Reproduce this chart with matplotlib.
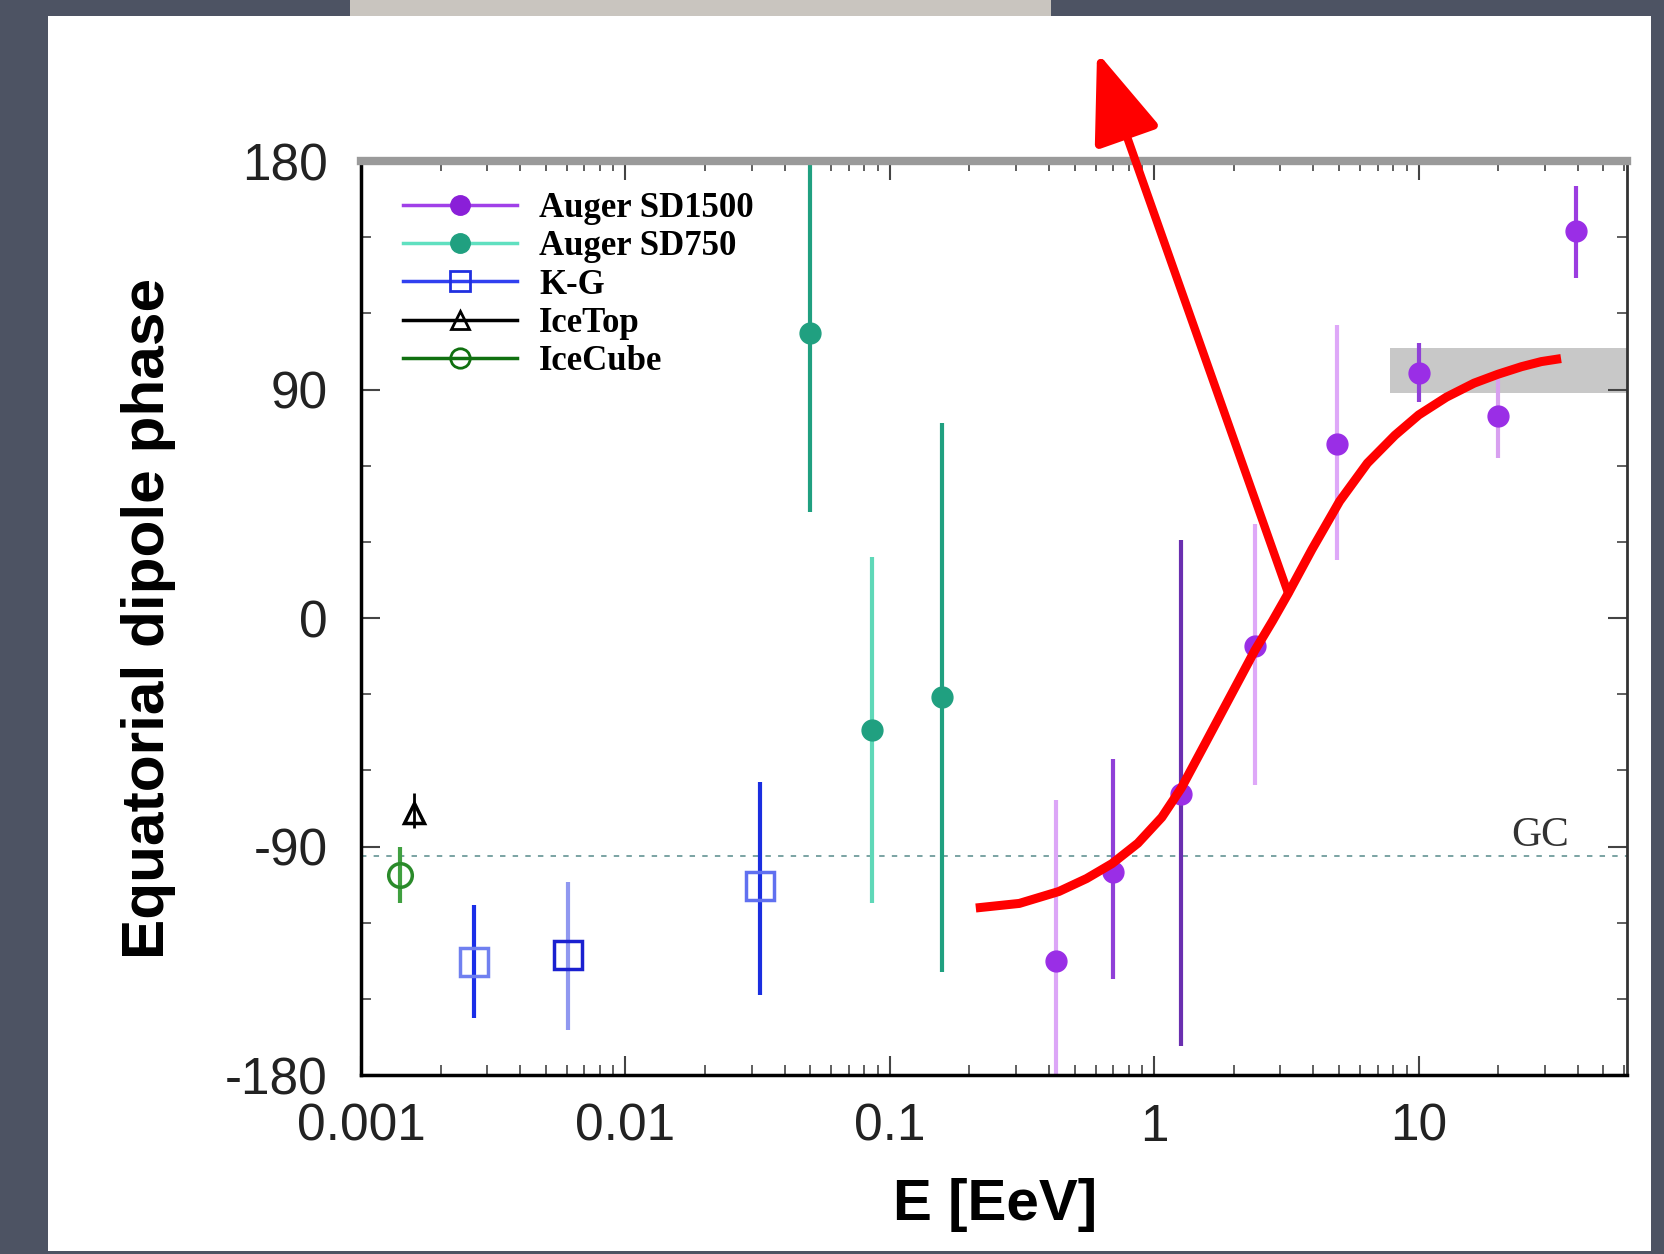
import matplotlib
matplotlib.use("Agg")
import matplotlib.pyplot as plt
from matplotlib.lines import Line2D
from matplotlib.patches import Rectangle
from matplotlib.ticker import LogLocator, MultipleLocator, NullFormatter

# ---- data ----
# Auger SD1500
sd1500_E = [0.424, 0.697, 1.26, 2.41, 4.93, 10.0, 19.9, 39.3]
sd1500_phase = [-135.1, -99.9, -69.3, -11.0, 68.6, 96.6, 79.7, 152.4]
sd1500_lo = [-200, -142.1, -168.6, -65.7, 22.8, 85.2, 63.0, 134.0]
sd1500_hi = [-71.7, -55.6, 30.8, 36.9, 115.3, 108.3, 95.2, 170.0]
sd1500_barcol = ["#dca6f7", "#9040d8", "#6a2fb0", "#dea8f8", "#dea8f8", "#9040d8", "#d8a0f0", "#9b3de0"]

# Auger SD750
sd750_E = [0.050, 0.086, 0.157]
sd750_phase = [112.2, -44.0, -31.0]
sd750_lo = [41.9, -112.2, -139.4]
sd750_hi = [200, 23.9, 77.0]
sd750_barcol = ["#20a080", "#5fd8b8", "#20a080"]

# KASCADE-Grande
kg_E = [0.00267, 0.00607, 0.0323]
kg_phase = [-135.6, -132.7, -105.5]
kg_lo = [-157.4, -162.4, -148.6]
kg_hi = [-113.0, -103.8, -64.5]
kg_barcol = ["#1a2ee8", "#9098f0", "#1a2ee0"]
kg_mkcol = ["#7080f0", "#1a20d0", "#6070f0"]

# IceTop / IceCube
icetop_E, icetop_phase, icetop_lo, icetop_hi = [0.00159], [-76.6], [-82.5], [-69.0]
icecube_E, icecube_phase, icecube_lo, icecube_hi = [0.00140], [-101.3], [-112.2], [-90.0]

gc_phase = -93.6
band_E = [7.8, 61.4]
band_lo, band_hi = 88.7, 106.3

# hand-drawn red curve on the slide (read point by point)
curve_E = [0.2115, 0.309, 0.436, 0.555, 0.693, 0.867, 1.068, 1.267, 1.559, 1.916, 2.398, 2.80,
           3.212, 3.948, 5.025, 6.40, 8.14, 10.01, 12.74, 16.20, 19.93, 24.5, 29.1, 34.56]
curve_phase = [-114.2, -112.4, -107.7, -102.6, -96.7, -88.7, -78.5, -66.9, -49.4, -31.9, -12.9, -1.2,
               9.7, 27.0, 46.0, 61.0, 72.0, 80.0, 87.0, 92.5, 96.0, 99.0, 101.0, 102.2]
arrow_from = 12  # index of the curve point where the arrow starts

y_ticks = [-180, -90, 0, 90, 180]
y_ticklabels = ["-180", "-90", "0", "90", "180"]
x_ticks = [0.001, 0.01, 0.1, 1, 10]
x_ticklabels = ["0.001", "0.01", "0.1", "1", "10"]
legend_labels = ["Auger SD1500", "Auger SD750", "K-G", "IceTop", "IceCube"]

# ---- figure ----
fig = plt.figure(figsize=(16.65, 12.54), dpi=100)
fig.patch.set_facecolor("#4d5363")

# white slide panel and grey strip at the top
fig.patches.append(Rectangle((0.0288, 0.0024), 0.9628, 0.9848, transform=fig.transFigure,
                             facecolor="white", edgecolor="none", zorder=-5))
fig.patches.append(Rectangle((0.2102, 0.9872), 0.421, 0.0128, transform=fig.transFigure,
                             facecolor="#c9c5bf", edgecolor="none", zorder=-5))

ax = fig.add_axes([0.2168, 0.1427, 0.7604, 0.7289])
ax.set_facecolor("white")
ax.set_xscale("log")
ax.set_xlim(0.001, 61.4)
ax.set_ylim(-180, 180)

# grey band and GC line
ax.fill_between(band_E, band_lo, band_hi, color="#c8c8c8", lw=0, zorder=1)
ax.axhline(gc_phase, color="#6f9c9c", ls=(0, (3, 4)), lw=1.3, zorder=1)
ax.text(28.7, -85.8, "GC", family="Liberation Serif", fontsize=30, color="#333333",
        ha="center", va="center")

# error bars
ax.vlines(sd1500_E, sd1500_lo, sd1500_hi, colors=sd1500_barcol, lw=3, zorder=2)
ax.vlines(sd750_E, sd750_lo, sd750_hi, colors=sd750_barcol, lw=3, zorder=2)
ax.vlines(kg_E, kg_lo, kg_hi, colors=kg_barcol, lw=3, zorder=2)
ax.vlines(icetop_E, icetop_lo, icetop_hi, colors="black", lw=2, zorder=2)
ax.vlines(icecube_E, icecube_lo, icecube_hi, colors="#40a040", lw=3, zorder=2)

# markers
ax.plot(sd1500_E, sd1500_phase, "o", color="#9a2ee6", ms=15, zorder=3)
ax.plot(sd750_E, sd750_phase, "o", color="#20a080", ms=15, zorder=3)
for e, p, c in zip(kg_E, kg_phase, kg_mkcol):
    ax.plot(e, p, "s", mfc="none", mec=c, mew=2.5, ms=20, zorder=3)
ax.plot(icetop_E, icetop_phase, "^", mfc="none", mec="black", mew=2.5, ms=15, zorder=3)
ax.plot(icecube_E, icecube_phase, "o", mfc="none", mec="#2a8a2a", mew=2.5, ms=17, zorder=3)

# red curve and arrow drawn on top
ax.plot(curve_E, curve_phase, color="red", lw=6.5, solid_capstyle="butt",
        solid_joinstyle="round", zorder=6)
ax.annotate("", xy=(0.6589, 0.9585), xycoords="figure fraction",
            xytext=(curve_E[arrow_from], curve_phase[arrow_from]), textcoords="data",
            arrowprops=dict(arrowstyle="-|>,head_length=1.0,head_width=0.38", color="red",
                            lw=6, mutation_scale=55, shrinkA=0, shrinkB=0),
            annotation_clip=False, zorder=7)

# axes styling
for side in ["left", "bottom"]:
    ax.spines[side].set_color("black")
    ax.spines[side].set_linewidth(2.5)
ax.spines["top"].set_color("#9a9a9a")
ax.spines["top"].set_linewidth(6)
ax.spines["right"].set_color("#333333")
ax.spines["right"].set_linewidth(2)

ax.xaxis.set_minor_locator(LogLocator(base=10, subs=range(2, 10), numticks=20))
ax.xaxis.set_minor_formatter(NullFormatter())
ax.set_xticks(x_ticks)
ax.set_xticklabels(x_ticklabels)
ax.set_yticks(y_ticks)
ax.set_yticklabels(y_ticklabels)
ax.yaxis.set_minor_locator(MultipleLocator(30))

ax.tick_params(which="both", direction="in", top=True, right=True, color="#444444")
ax.tick_params(which="major", length=14, width=1.5)
ax.tick_params(which="minor", length=7, width=1.2)
ax.tick_params(axis="x", which="major", pad=20, labelsize=37)
ax.tick_params(axis="y", which="major", pad=24, labelsize=37)
for lab in ax.get_xticklabels() + ax.get_yticklabels():
    lab.set_family("Liberation Sans")
    lab.set_color("#222222")

ax.set_xlabel("E [EeV]", family="Liberation Sans", fontweight="bold", fontsize=42)
ax.xaxis.set_label_coords(0.5008, -0.142)
ax.xaxis.label.set_va("center")
ax.set_ylabel("Equatorial dipole phase", family="Liberation Sans", fontweight="bold", fontsize=43.5)
ax.yaxis.set_label_coords(-0.1675, 0.5)
ax.yaxis.label.set_va("center")

# legend
handles = [
    Line2D([], [], color="#a040e8", lw=2.5, marker="o", mfc="#8a1fd8", mec="#8a1fd8", ms=14),
    Line2D([], [], color="#60e0c0", lw=2.5, marker="o", mfc="#20a080", mec="#20a080", ms=14),
    Line2D([], [], color="#3040f0", lw=2.5, marker="s", mfc="none", mec="#2030e0", mew=2, ms=15),
    Line2D([], [], color="black", lw=2.5, marker="^", mfc="none", mec="black", mew=2, ms=13),
    Line2D([], [], color="#107010", lw=2.5, marker="o", mfc="none", mec="#107010", mew=2, ms=14),
]
ax.legend(handles, legend_labels, loc="upper left", bbox_to_anchor=(0.033, 0.966),
          frameon=False, borderpad=0, borderaxespad=0, handlelength=3.3, handletextpad=0.63,
          labelspacing=0.15, prop={"family": "Liberation Serif", "weight": "bold", "size": 25})

fig.savefig("out.png", dpi=100, facecolor=fig.get_facecolor())
